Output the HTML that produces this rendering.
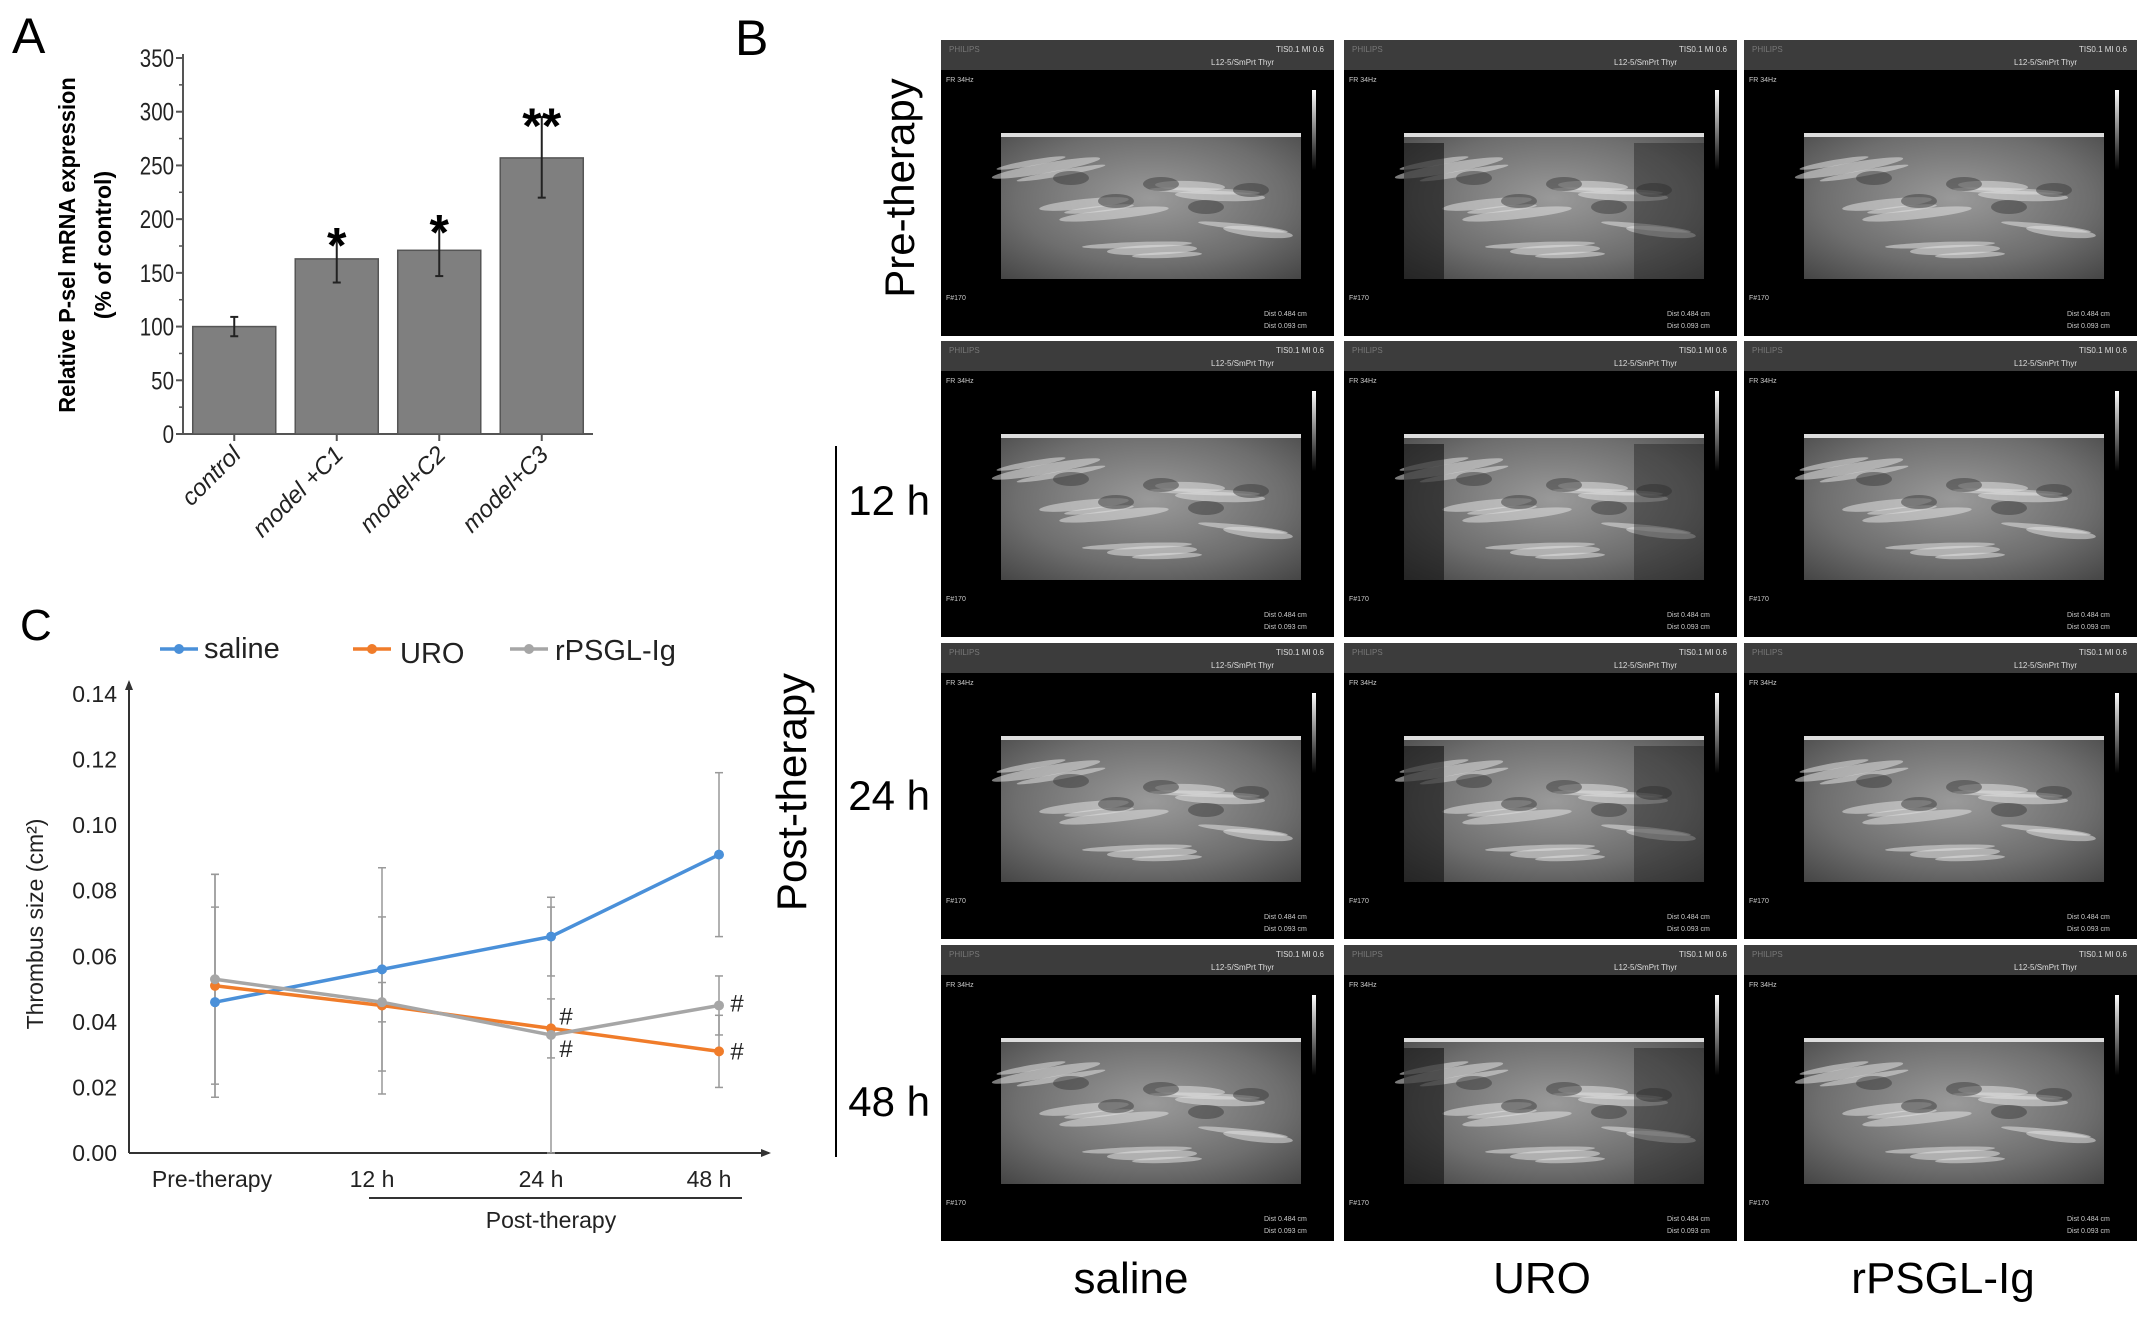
<!DOCTYPE html>
<html><head><meta charset="utf-8"><style>
body{margin:0;background:#fff;}
svg{display:block;font-family:"Liberation Sans",Arial,sans-serif;}
</style></head><body>
<svg id="fig" width="2150" height="1317" viewBox="0 0 2150 1317" xmlns="http://www.w3.org/2000/svg">
<defs>
<radialGradient id="tex" cx="0.5" cy="0.45" r="0.75">
<stop offset="0" stop-color="#9a9a9a"/><stop offset="0.6" stop-color="#6e6e6e"/><stop offset="1" stop-color="#444"/>
</radialGradient>
<linearGradient id="scale" x1="0" y1="0" x2="0" y2="1"><stop offset="0" stop-color="#fff"/><stop offset="1" stop-color="#000"/></linearGradient>
</defs>
<g id="panelA"></g>
<g id="panelB"></g>
<g id="panelC"></g>
</svg>
<script>
// ---- Panel A data ----
const barCategories = ["control","model +C1","model+C2","model+C3"];
const barValues = [100,163,171,257];
const barErrLow = [91,141,147,220];
const barErrHigh = [109,184,196,295];
const barMarks = ["","*","*","**"];
const barTicks = [0,50,100,150,200,250,300,350];
// ---- Panel C data ----
const lineCategories = ["Pre-therapy","12 h","24 h","48 h"];
const salineValues = [0.046,0.056,0.066,0.091];
const salineErr = [0.029,0.031,0.012,0.025];
const uroValues = [0.051,0.045,0.038,0.031];
const uroErr = [0.034,0.027,0.009,0.011];
const rpsglValues = [0.053,0.046,0.036,0.045];
const rpsglErr = [0.032,0.006,0.039,0.009];
const lineTicks = [0,0.02,0.04,0.06,0.08,0.10,0.12,0.14];
const rowLabels = ["Pre-therapy","12 h","24 h","48 h"];
const colLabels = ["saline","URO","rPSGL-Ig"];

const NS="http://www.w3.org/2000/svg";
function mk(parent,tag,attrs,text){const e=document.createElementNS(NS,tag);for(const k in attrs)e.setAttribute(k,attrs[k]);if(text!==undefined)e.textContent=text;parent.appendChild(e);return e;}

// ---- Panel A ----
(function(){
const g=document.getElementById('panelA');
const x0=183,x1=593,yb=434,yTop=58,vmax=350;
const y=v=>yb-(v/vmax)*(yb-yTop);
const band=(x1-x0)/barCategories.length;
const bx=i=>x0+band*i+band/2;
let t=mk(g,'text',{x:12,y:53,'font-size':50},'A');


let ax=mk(g,'line',{x1:x0,y1:yTop-4,x2:x0,y2:yb,stroke:'#555','stroke-width':2});


let bx2=mk(g,'line',{x1:x0,y1:yb,x2:x1,y2:yb,stroke:'#555','stroke-width':2});


barTicks.forEach(v=>{
 mk(g,'line',{x1:x0-7,y1:y(v),x2:x0,y2:y(v),stroke:'#555','stroke-width':2});
 if(v<vmax) mk(g,'line',{x1:x0-4,y1:y(v+25),x2:x0,y2:y(v+25),stroke:'#555','stroke-width':1.5});
 const l=mk(g,'text',{x:x0-9,y:y(v)+9,'font-size':25,'text-anchor':'end',fill:'#222',transform:`translate(${x0-9},0) scale(0.82,1) translate(${-(x0-9)},0)`},String(v));
 
 
});
barCategories.forEach((c,i)=>{
 const w=band*0.81,cx=bx(i);
 const r=mk(g,'rect',{x:cx-w/2,y:y(barValues[i]),width:w,height:yb-y(barValues[i]),fill:'#7f7f7f',stroke:'#555','stroke-width':1.5});
 
 
 mk(g,'line',{x1:cx,y1:y(barErrLow[i]),x2:cx,y2:y(barErrHigh[i]),stroke:'#222','stroke-width':2});
 mk(g,'line',{x1:cx-4,y1:y(barErrLow[i]),x2:cx+4,y2:y(barErrLow[i]),stroke:'#222','stroke-width':2});
 mk(g,'line',{x1:cx-4,y1:y(barErrHigh[i]),x2:cx+4,y2:y(barErrHigh[i]),stroke:'#222','stroke-width':2});
 mk(g,'line',{x1:cx,y1:yb,x2:cx,y2:yb+7,stroke:'#555','stroke-width':2});
 if(barMarks[i]){const s=mk(g,'text',{x:cx,y:y(barErrHigh[i])+26,'font-size':50,'font-weight':'bold','text-anchor':'middle'},barMarks[i]);
  
  }
 const l=mk(g,'text',{x:cx+8,y:yb+22,'font-size':24,'font-style':'italic','text-anchor':'end',fill:'#222',transform:`rotate(-45 ${cx+8} ${yb+22})`},c);
 
 
});
const yt1=mk(g,'text',{x:0,y:0,'font-size':23,'font-weight':'bold','text-anchor':'middle',transform:`translate(75,245) rotate(-90) scale(0.95,1)`},'Relative P-sel mRNA expression');


const yt2=mk(g,'text',{x:0,y:0,'font-size':23,'font-weight':'bold','text-anchor':'middle',transform:`translate(111,245) rotate(-90)`},'(% of control)');


})();

// ---- Panel B ----
(function(){
const g=document.getElementById('panelB');
const colX=[941,1344,1744], rowY=[40,341,643,945], W=393, H=296;
let b=mk(g,'text',{x:735,y:55,'font-size':50},'B');


rowY.forEach((ry,ri)=>colX.forEach((cx,ci)=>{
 const cell=mk(g,'g',{});
 
 
 mk(cell,'rect',{x:cx,y:ry,width:W,height:H,fill:'#000'});
 mk(cell,'rect',{x:cx,y:ry,width:W,height:30,fill:'#3c3c3c'});
 mk(cell,'text',{x:cx+8,y:ry+12,'font-size':8,fill:'#777'},'PHILIPS');
 mk(cell,'text',{x:cx+W-10,y:ry+12,'font-size':8,fill:'#ddd','text-anchor':'end'},'TIS0.1  MI 0.6');
 mk(cell,'text',{x:cx+W-60,y:ry+25,'font-size':8,fill:'#ddd','text-anchor':'end'},'L12-5/SmPrt Thyr');
 mk(cell,'text',{x:cx+5,y:ry+42,'font-size':7,fill:'#ccc'},'FR 34Hz');
 mk(cell,'text',{x:cx+5,y:ry+H-36,'font-size':7,fill:'#ccc'},'F#170');
 mk(cell,'text',{x:cx+W-70,y:ry+H-20,'font-size':7,fill:'#ccc'},'Dist 0.484 cm');
 mk(cell,'text',{x:cx+W-70,y:ry+H-8,'font-size':7,fill:'#ccc'},'Dist 0.093 cm');
 mk(cell,'rect',{x:cx+W-22,y:ry+50,width:4,height:80,fill:'url(#scale)'});
 const tx=cx+60,ty=ry+93,tw=300,th=146;
 mk(cell,'rect',{x:tx,y:ty,width:tw,height:th,fill:'url(#tex)'});
 mk(cell,'rect',{x:tx,y:ty,width:tw,height:4,fill:'#ddd'});
 for(let k=0;k<14;k++){
  const ex=tx+30+((k*53)%250), ey=ty+30+((k*41)%100);
  mk(cell,'ellipse',{cx:ex,cy:ey,rx:35+(k%3)*10,ry:3+(k%2)*2,fill:'#e0e0e0',opacity:0.55,transform:`rotate(${-10+(k%5)*4} ${ex} ${ey})`});
 }
 for(let k=0;k<5;k++){
  const ex=tx+70+k*45, ey=ty+45+((k*23)%40);
  mk(cell,'ellipse',{cx:ex,cy:ey,rx:18,ry:7,fill:'#3a3a3a',opacity:0.5});
 }
 if(ci===1){mk(cell,'rect',{x:tx,y:ty+10,width:40,height:th-10,fill:'#111',opacity:0.6});mk(cell,'rect',{x:tx+230,y:ty+10,width:70,height:th-10,fill:'#222',opacity:0.45});}
}));
rowLabels.forEach((r,i)=>{
 let t;
 if(i===0) t=mk(g,'text',{x:0,y:0,'font-size':42,'text-anchor':'middle',transform:'translate(914,188) rotate(-90)'},r);
 else t=mk(g,'text',{x:930,y:[0,515,810,1116][i],'font-size':42,'text-anchor':'end'},r);
 
 
});
let pt=mk(g,'text',{x:0,y:0,'font-size':42,'text-anchor':'middle',transform:'translate(806,792) rotate(-90)'},'Post-therapy');


let vl=mk(g,'line',{x1:836,y1:446,x2:836,y2:1157,stroke:'#000','stroke-width':2});


colLabels.forEach((c,i)=>{const t=mk(g,'text',{x:[1131,1542,1943][i],y:1293,'font-size':44,'text-anchor':'middle'},c);
 
 });
})();

// ---- Panel C ----
(function(){
const g=document.getElementById('panelC');
const x0=129,x1=769,yb=1153,yTop=694,vmax=0.14;
const y=v=>yb-(v/vmax)*(yb-yTop);
const xs=[215,382,551,719];
const px=i=>xs[i];
let c=mk(g,'text',{x:20,y:640,'font-size':44},'C');


let ay=mk(g,'line',{x1:x0,y1:yb,x2:x0,y2:yTop-12,stroke:'#333','stroke-width':2});


mk(g,'path',{d:`M${x0-4},${yTop-4} L${x0},${yTop-14} L${x0+4},${yTop-4}Z`,fill:'#333'});
let axx=mk(g,'line',{x1:x0,y1:yb,x2:x1,y2:yb,stroke:'#333','stroke-width':2});


mk(g,'path',{d:`M${x1-8},${yb-4} L${x1+2},${yb} L${x1-8},${yb+4}Z`,fill:'#333'});
lineTicks.forEach(v=>{const t=mk(g,'text',{x:x0-12,y:y(v)+8,'font-size':23,'text-anchor':'end',fill:'#222'},v.toFixed(2));
 
 });
lineCategories.forEach((cat,i)=>{const t=mk(g,'text',{x:i===0?px(i)-3:px(i)-10,y:1187,'font-size':23,'text-anchor':'middle',fill:'#222'},cat);
 
 });
let ul=mk(g,'line',{x1:369,y1:1198,x2:742,y2:1198,stroke:'#333','stroke-width':2});


let pl=mk(g,'text',{x:551,y:1228,'font-size':23,'text-anchor':'middle',fill:'#222'},'Post-therapy');


let ytTitle=mk(g,'text',{x:0,y:0,'font-size':23,'text-anchor':'middle',fill:'#222',transform:'translate(43,924) rotate(-90)'},'Thrombus size (cm²)');


const series=[["saline",salineValues,salineErr,"#4a90d9"],["uro",uroValues,uroErr,"#f07c2a"],["rpsgl-ig",rpsglValues,rpsglErr,"#a6a6a6"]];
series.forEach(([n,vals,errs])=>vals.forEach((v,i)=>{
 const e=mk(g,'g',{stroke:'#999','stroke-width':1.5});
 
 
 const lo=Math.max(0,v-errs[i]),hi=v+errs[i];
 mk(e,'line',{x1:px(i),y1:y(lo),x2:px(i),y2:y(hi)});
 mk(e,'line',{x1:px(i)-4,y1:y(lo),x2:px(i)+4,y2:y(lo)});
 mk(e,'line',{x1:px(i)-4,y1:y(hi),x2:px(i)+4,y2:y(hi)});
}));
series.forEach(([n,vals,errs,col])=>{
 const p=mk(g,'polyline',{points:vals.map((v,i)=>px(i)+','+y(v)).join(' '),fill:'none',stroke:col,'stroke-width':3.5});
 
 
 vals.forEach((v,i)=>{const d=mk(g,'circle',{cx:px(i),cy:y(v),r:5,fill:col});
  
  });
});
[[px(2)+15,y(uroValues[2])-4],[px(2)+15,y(rpsglValues[2])+22],[px(3)+18,y(rpsglValues[3])+6],[px(3)+18,y(uroValues[3])+8]].forEach(([a,b])=>{
 const h=mk(g,'text',{x:a,y:b,'font-size':24,fill:'#222','text-anchor':'middle'},'#');
 
 });
const leg=[["saline",160,204,"#4a90d9",658],["URO",353,400,"#f07c2a",663],["rPSGL-Ig",510,555,"#a6a6a6",660]];
leg.forEach(([n,lx,tx,col,ty])=>{
 const lg=mk(g,'g',{});
 
 
 mk(lg,'line',{x1:lx,y1:649,x2:lx+38,y2:649,stroke:col,'stroke-width':3.5});
 mk(lg,'circle',{cx:lx+19,cy:649,r:5,fill:col});
 mk(lg,'text',{x:tx,y:ty,'font-size':29,fill:'#222'},n);
});
})();
</script>
</body></html>
